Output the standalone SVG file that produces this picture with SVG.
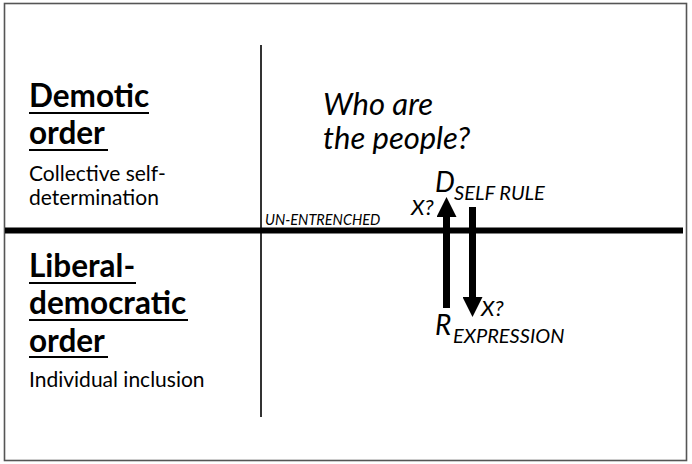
<svg xmlns="http://www.w3.org/2000/svg" width="692" height="464" viewBox="0 0 692 464">
<style>
text{font-family:Lato,"Open Sans","Liberation Sans",sans-serif;fill:#000}
.h{font-weight:bold;font-size:31.5px}
.s{font-size:21px}
.i{font-style:italic}
.ul{stroke:#000;stroke-width:2.2}
.arrow{stroke:#000;stroke-width:7;fill:none}
</style>
<defs>
<marker id="ah" viewBox="0 0 20 20" markerWidth="20" markerHeight="20" refX="0" refY="10" orient="auto" markerUnits="userSpaceOnUse">
<path d="M0,0 L20,10 L0,20 z" fill="#000"/>
</marker>
</defs>
<rect x="0" y="0" width="692" height="464" fill="#fff"/>
<rect x="4.5" y="3.5" width="682" height="457" fill="none" stroke="#555" stroke-width="1.6"/>
<g id="axes">
<line x1="261" y1="45" x2="261" y2="417" stroke="#333" stroke-width="2"/>
<line x1="5" y1="230.5" x2="683" y2="230.5" stroke="#000" stroke-width="6"/>
</g>
<g id="demotic">
<text class="h" x="29" y="107">Demotic</text>
<line class="ul" x1="29" y1="113" x2="149" y2="113"/>
<text class="h" x="29" y="144">order</text>
<line class="ul" x1="29" y1="150" x2="108" y2="150"/>
<text class="s" x="29" y="181">Collective self-</text>
<text class="s" x="29" y="205">determination</text>
</g>
<g id="liberal">
<text class="h" x="29" y="277">Liberal-</text>
<line class="ul" x1="29" y1="283" x2="136" y2="283"/>
<text class="h" x="29" y="314">democratic</text>
<line class="ul" x1="29" y1="320" x2="188" y2="320"/>
<text class="h" x="29" y="352">order</text>
<line class="ul" x1="29" y1="357" x2="108" y2="357"/>
<text class="s" x="29" y="387">Individual inclusion</text>
</g>
<g id="question">
<text class="i" x="323" y="115" font-size="31">Who are</text>
<text class="i" x="323" y="149" font-size="31">the people?</text>
</g>
<g id="unentrenched">
<text class="i" x="265" y="225" font-size="14.5">UN-ENTRENCHED</text>
</g>
<g id="d-self-rule">
<text class="i" x="435" y="192" font-size="28">D</text>
<text class="i" x="454" y="200" font-size="20">SELF RULE</text>
</g>
<g id="r-expression">
<text class="i" x="435" y="335" font-size="28">R</text>
<text class="i" x="453" y="343" font-size="20">EXPRESSION</text>
</g>
<g id="x-upper">
<text class="i" x="411" y="215" font-size="22">X?</text>
</g>
<g id="x-lower">
<text class="i" x="481" y="316" font-size="22">X?</text>
</g>
<g id="connectors">
<line class="arrow" x1="446.5" y1="308" x2="446.5" y2="217" marker-end="url(#ah)"/>
<line class="arrow" x1="472.5" y1="207" x2="472.5" y2="297" marker-end="url(#ah)"/>
</g>
</svg>
